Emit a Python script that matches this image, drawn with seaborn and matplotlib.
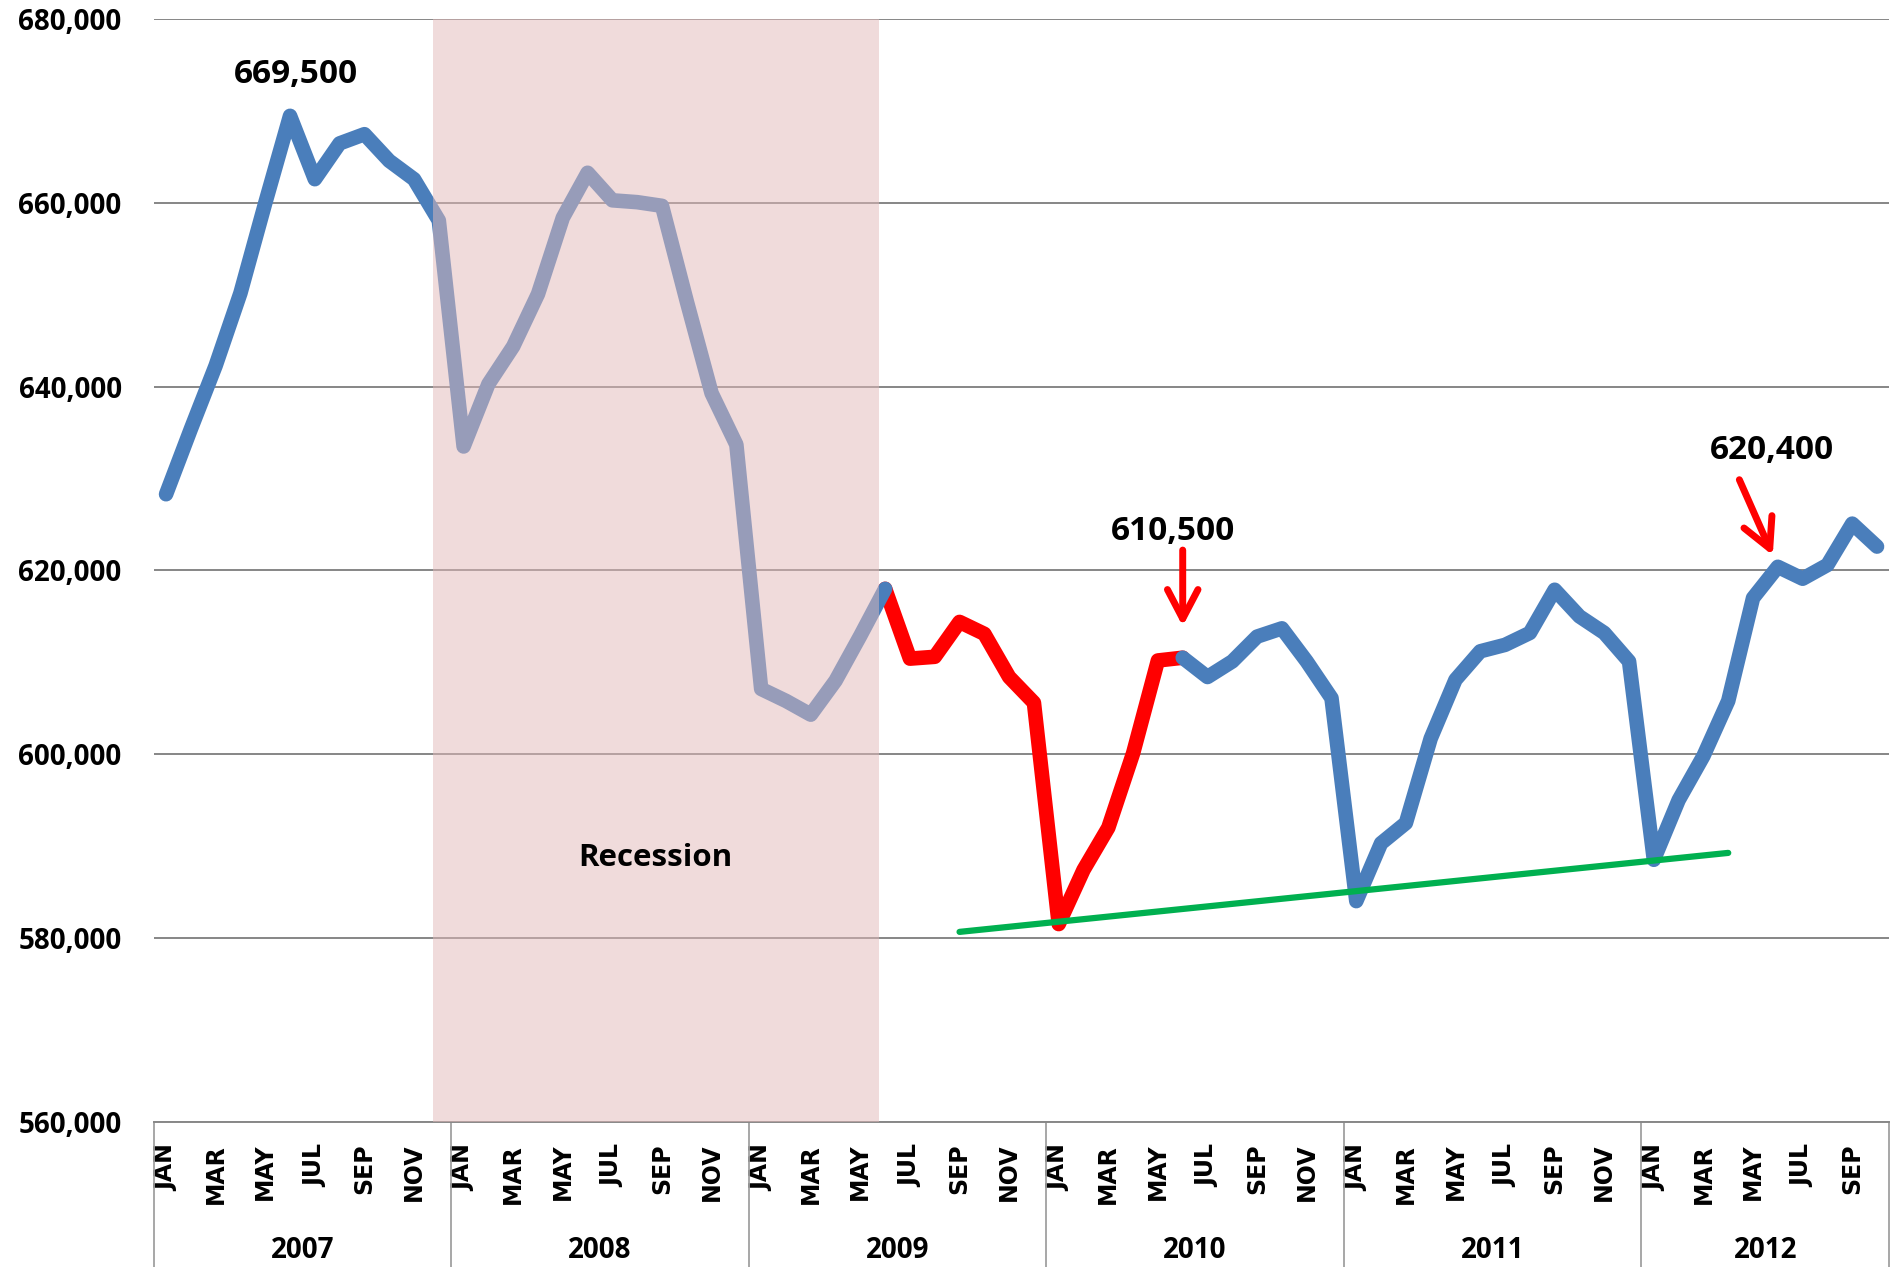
import matplotlib
matplotlib.use("Agg")
import matplotlib.pyplot as plt
import seaborn as sns
import pandas as pd
from matplotlib.transforms import blended_transform_factory

years = [2007, 2008, 2009, 2010, 2011, 2012]
month_names = ["JAN", "FEB", "MAR", "APR", "MAY", "JUN",
               "JUL", "AUG", "SEP", "OCT", "NOV", "DEC"]

values_2007 = [628300, 635400, 642300, 650200, 660000, 669500,
               662600, 666500, 667500, 664600, 662600, 658100]
values_2008 = [633500, 640300, 644400, 650100, 658400, 663300,
               660300, 660100, 659700, 649300, 639300, 633700]
values_2009 = [607100, 605800, 604300, 608000, 612900, 618000,
               610400, 610600, 614400, 613100, 608400, 605600]
values_2010 = [581500, 587400, 592000, 600100, 610200, 610500,
               608400, 610100, 612800, 613700, 610100, 606100]
values_2011 = [584000, 590300, 592500, 601700, 608100, 611200,
               611900, 613200, 617900, 615000, 613200, 610100]
values_2012 = [588500, 595000, 599800, 605800, 617000, 620400,
               619100, 620600, 625100, 622600]

# red highlighted stretch, recession shading, support line
red_span = ("2009-06", "2010-06")
recession = ("2007-12", "2009-06")
trend_months = ["2009-09", "2012-04"]
trend_values = [580650, 589250]

callouts = ["2007-06", "2010-06", "2012-06"]


def idx(ym):
    y, m = ym.split("-")
    return (int(y) - years[0]) * 12 + int(m) - 1


rows = []
for y, vals in zip(years, [values_2007, values_2008, values_2009,
                           values_2010, values_2011, values_2012]):
    for m, v in enumerate(vals):
        rows.append({"year": y, "month": month_names[m], "value": v})
df = pd.DataFrame(rows)
df["idx"] = range(len(df))

sns.set_theme(style="white")
plt.rcParams["font.family"] = ["Open Sans", "DejaVu Sans"]
plt.rcParams["text.color"] = "black"

fig = plt.figure(figsize=(18.97, 12.67), dpi=100)
ax = fig.add_axes([0.081, 0.1148, 0.915, 0.8699])

line_kw = dict(lw=10.5, solid_capstyle="round", solid_joinstyle="round",
               ax=ax, legend=False)

r0, r1 = idx(red_span[0]), idx(red_span[1])
red = df[(df.idx >= r0) & (df.idx <= r1)]
sns.lineplot(data=red, x="idx", y="value", color="#FF0000", zorder=3, **line_kw)
sns.lineplot(data=df[df.idx <= r0], x="idx", y="value", color="#4A7EBB",
             zorder=4, **line_kw)
sns.lineplot(data=df[df.idx >= r1], x="idx", y="value", color="#4A7EBB",
             zorder=4, **line_kw)

trend = pd.DataFrame({"idx": [idx(t) for t in trend_months], "value": trend_values})
sns.lineplot(data=trend, x="idx", y="value", color="#00B050", lw=4.5,
             zorder=5, ax=ax, legend=False)

# recession band, drawn over the line so it tints it
ax.axvspan(idx(recession[0]) - 0.25, idx(recession[1]) - 0.25,
           color="#E2B9B9", alpha=0.51, lw=0, zorder=6)
ax.text(19.74, 588700, "Recession", ha="center", va="center",
        fontsize=22.5, fontweight="bold", zorder=7)

# callout labels
vals = df.set_index("idx")["value"]
p0, p1, p2 = [idx(c) for c in callouts]
lab_kw = dict(textcoords="offset points", ha="center", va="center",
              fontsize=24, fontweight="bold", zorder=8)
ax.annotate(f"{vals[p0]:,}", xy=(p0, vals[p0]), xytext=(4.5, 29.5), **lab_kw)
ax.annotate(f"{vals[p1]:,}", xy=(p1, vals[p1]), xytext=(-6.8, 90.6), **lab_kw)
ax.annotate(f"{vals[p2]:,}", xy=(p2, vals[p2]), xytext=(-4.1, 83.6), **lab_kw)
arrow = dict(arrowstyle="->,head_length=1.05,head_width=0.55",
             mutation_scale=20, color="#FF0000", lw=5, shrinkA=0)
ax.annotate("", xy=(p1, vals[p1]), xytext=(0, 77.5), textcoords="offset points",
            arrowprops=dict(arrow, shrinkB=22.7), zorder=8)
ax.annotate("", xy=(p2, vals[p2]), xytext=(-27.7, 62.7), textcoords="offset points",
            arrowprops=dict(arrow, shrinkB=9), zorder=8)

# axes
ax.set_xlim(-0.5, len(df) - 0.5)
ax.set_ylim(560000, 680000)
yt = list(range(560000, 680001, 20000))
ax.set_yticks(yt)
ax.set_yticklabels([f"{v:,}" for v in yt], fontsize=20, fontweight="bold")
ax.yaxis.grid(True, color="#868686", lw=1.4)
ax.xaxis.grid(False)
ax.set_axisbelow(True)

odd = df[df.month.isin(month_names[::2])]
ax.set_xticks(odd.idx)
ax.set_xticklabels(odd.month, rotation=90, fontsize=17, fontweight="bold",
                   family=["DejaVu Sans"])
ax.tick_params(axis="x", length=0, pad=16, colors="black")
ax.tick_params(axis="y", length=0, pad=23, colors="black")
ax.set_xlabel("")
ax.set_ylabel("")

for s in ["left", "right", "top"]:
    ax.spines[s].set_visible(False)
ax.spines["bottom"].set_color("#888888")
ax.spines["bottom"].set_linewidth(1.4)

# year boxes under the month labels
trans = blended_transform_factory(ax.transData, ax.transAxes)
bounds = [-0.5] + [g.idx.max() + 0.5 for _, g in df.groupby("year")]
for b in bounds:
    ax.plot([b, b], [0, -0.14], transform=trans, clip_on=False,
            color="#A0A0A0", lw=1.3)
for y, g in df.groupby("year"):
    ax.text(g.idx.mean(), -0.1166, str(y), transform=trans, ha="center",
            va="center", fontsize=20, fontweight="bold")

fig.savefig("out.png", dpi=100)
